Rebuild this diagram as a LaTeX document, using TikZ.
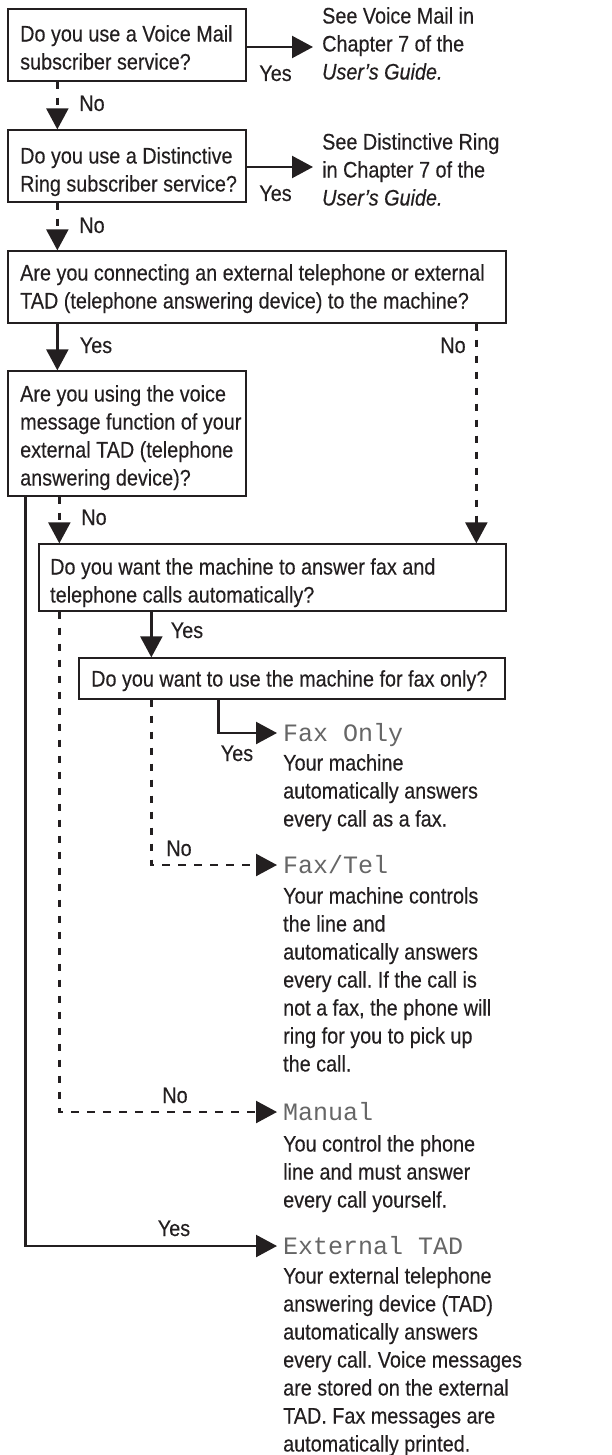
\documentclass[tikz,border=0pt]{standalone}
\usepackage{fontspec}
\setmainfont{Liberation Sans}[FakeStretch=0.88,FakeBold=0.3]
\newfontfamily\lcdfont{Liberation Mono}
\usetikzlibrary{arrows.meta,calc}
\newcommand\mainsz{\fontsize{22.5}{28}\selectfont}
\definecolor{ink}{HTML}{231F20}
\begin{document}
\frenchspacing
\begin{tikzpicture}[x=1pt,y=-1pt,
  qbox/.style={draw=ink, line width=1.3pt, inner sep=0pt},
  qtext/.style={anchor=north west, align=left, inner sep=0pt, font=\mainsz, text=ink},
  lab/.style={anchor=base, inner sep=0pt, font=\mainsz, text=ink},
  head/.style={anchor=west, inner sep=0pt, font=\lcdfont\fontsize{25}{28}\selectfont, text=black!60, text height=16.5pt, text depth=0pt},
  sol/.style={draw=ink, line width=2.3pt, -{Triangle[length=21pt,width=22pt]}},
  dsh/.style={sol, dash pattern=on 7.5pt off 8.5pt}]
\useasboundingbox (0,0) rectangle (611,1455);

% question boxes
\node[qbox, minimum width=238pt, minimum height=72pt] (b1) at (127,45) {};
\node[qbox, minimum width=238pt, minimum height=72pt] (b2) at (127,166) {};
\node[qbox, minimum width=498pt, minimum height=72pt] (b3) at (257,287) {};
\node[qbox, minimum width=238pt, minimum height=125pt] (b4) at (127,433.5) {};
\node[qbox, minimum width=467pt, minimum height=67pt] (b5) at (272.5,577.5) {};
\node[qbox, minimum width=426pt, minimum height=41pt] (b6) at (292,678.5) {};

% question texts
\node[qtext] (t1) at (20,25) {Do you use a Voice Mail\\subscriber service?};
\node[qtext] (t2) at (20,147) {Do you use a Distinctive\\Ring subscriber service?};
\node[qtext] (t3) at (20,264) {Are you connecting an external telephone or external\\TAD (telephone answering device) to the machine?};
\node[qtext] (t4) at (20,385) {Are you using the voice\\message function of your\\external TAD (telephone\\answering device)?};
\node[qtext] (t5) at (50,558) {Do you want the machine to answer fax and\\telephone calls automatically?};
\node[qtext] (t6) at (91,670) {Do you want to use the machine for fax only?};

% references
\node[qtext] (r1) at (322,7) {See Voice Mail in\\Chapter 7 of the\\\textit{User’s Guide.}};
\node[qtext] (r2) at (322,133) {See Distinctive Ring\\in Chapter 7 of the\\\textit{User’s Guide.}};

% results
\node[head] (h1) at (283,733) {Fax Only};
\node[qtext] (d1) at (283,754) {Your machine\\automatically answers\\every call as a fax.};
\node[head] (h2) at (283,865) {Fax/Tel};
\node[qtext] (d2) at (283,887) {Your machine controls\\the line and\\automatically answers\\every call. If the call is\\not a fax, the phone will\\ring for you to pick up\\the call.};
\node[head] (h3) at (283,1112) {Manual};
\node[qtext] (d3) at (283,1135) {You control the phone\\line and must answer\\every call yourself.};
\node[head] (h4) at (283,1246) {External TAD};
\node[qtext] (d4) at (283,1267) {Your external telephone\\answering device (TAD)\\automatically answers\\every call. Voice messages\\are stored on the external\\TAD. Fax messages are\\automatically printed.};

% labels
\node[lab] (y1) at (275.5,81) {Yes};
\node[lab] (y2) at (275.5,201) {Yes};
\node[lab] (n1) at (92,111) {No};
\node[lab] (n2) at (92,233) {No};
\node[lab] (y3) at (96,353) {Yes};
\node[lab] (n3) at (453,353) {No};
\node[lab] (n4) at (94,525) {No};
\node[lab] (y5) at (187,638) {Yes};
\node[lab] (y6) at (237,761) {Yes};
\node[lab] (n6) at (179,856) {No};
\node[lab] (n5) at (175,1103) {No};
\node[lab] (y4) at (174,1236) {Yes};

% connectors
\draw[sol] ($(b1.east)+(0,2)$) -- ($(b1.east -| r1.west)+(-9,2)$);
\draw[sol] ($(b2.east)+(0,1)$) -- ($(b2.east -| r2.west)+(-9,1)$);
\draw[dsh] ($(b1.south west)+(50,0)$) -- ($(b2.north west)+(50,0)$);
\draw[dsh] ($(b2.south west)+(50,0)$) -- ($(b3.north west)+(50,0)$);
\draw[sol] ($(b3.south west)+(50,0)$) -- ($(b4.north west)+(50,0)$);
\draw[dsh] ($(b3.south west)+(469,0)$) -- ($(b5.north west)+(438,0)$);
\draw[dsh] ($(b4.south west)+(52,0)$) -- ($(b5.north west)+(21,0)$);
\draw[sol] ($(b4.south west)+(18,0)$) |- ($(h4.west)+(-6,0)$);
\draw[sol] ($(b5.south west)+(113,0)$) -- ($(b6.north west)+(73,0)$);
\draw[dsh] ($(b5.south west)+(21,0)$) |- ($(h3.west)+(-6,0)$);
\draw[sol] ($(b6.south west)+(140,0)$) |- ($(h1.west)+(-6,0)$);
\draw[dsh] ($(b6.south west)+(73,0)$) |- ($(h2.west)+(-6,0)$);
\end{tikzpicture}
\end{document}
